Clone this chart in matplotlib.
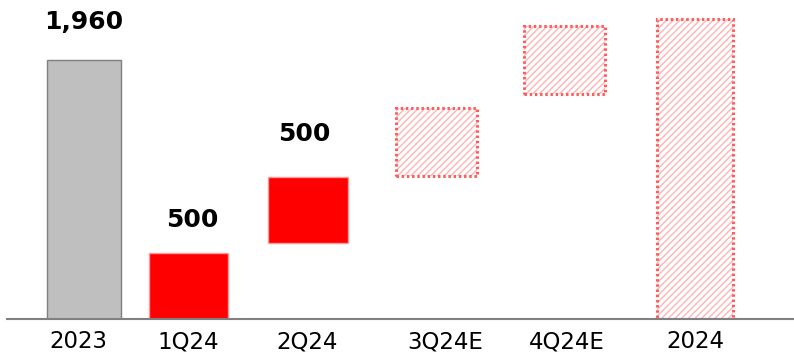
import matplotlib
matplotlib.use('Agg')
import matplotlib.pyplot as plt
from matplotlib.patches import Rectangle

plt.rcParams.update({'font.family': 'DejaVu Sans', 'hatch.linewidth': 1.0})

# waterfall data
periods = ['2023', '1Q24', '2Q24', '3Q24E', '4Q24E', '2024']
bottoms = [0, 0, 575, 1080, 1700, 0]
heights = [1960, 500, 500, 515, 515, 2270]
kinds = ['base', 'actual', 'actual', 'estimate', 'estimate', 'estimate']
labels = ['1,960', '500', '500', None, None, None]

# layout (x in pixel-like units)
centers = [84, 188.5, 308, 436.5, 564.5, 695]
widths = [74, 79, 80, 81, 81, 76]
tick_x = [78, 188, 307, 445, 567, 695]
label_gap = [26, 21, 31, 0, 0, 0]
label_dx = [0, 4, -4, 0, 0, 0]

fig = plt.figure(figsize=(7.94, 3.52), dpi=100)
ax = fig.add_axes([7 / 794, 33 / 352, 787 / 794, 319 / 352])
ax.set_xlim(7, 794)
ax.set_ylim(0, 319 / (259 / 1960))

for i, k in enumerate(kinds):
    x0 = centers[i] - widths[i] / 2
    if k == 'base':
        ax.bar(centers[i], heights[i], widths[i], bottom=bottoms[i],
               color='#BFBFBF', edgecolor='#7F7F7F', linewidth=1.0, zorder=2)
    elif k == 'actual':
        ax.bar(centers[i], heights[i], widths[i], bottom=bottoms[i],
               color='#FF0000', edgecolor='#FF9A9A', linewidth=1.0, zorder=2)
    else:
        ax.bar(centers[i], heights[i], widths[i], bottom=bottoms[i],
               color='white', edgecolor='#FFB4B4', hatch='/////', linewidth=0, zorder=2)
        ax.add_patch(Rectangle((x0, bottoms[i]), widths[i], heights[i], fill=False,
                               edgecolor='#FF5C5C', linewidth=2.2,
                               linestyle=(0, (0.8, 0.9)), zorder=3))
    if labels[i]:
        ax.annotate(labels[i], (centers[i] + label_dx[i], bottoms[i] + heights[i]),
                    xytext=(0, label_gap[i] * 0.72), textcoords='offset points',
                    ha='center', va='bottom', fontsize=18, fontweight='bold')

ax.set_xticks(tick_x)
ax.set_xticklabels(periods, fontsize=16.5)
ax.tick_params(axis='x', length=0, pad=8)
ax.set_yticks([])
for s in ['top', 'right', 'left']:
    ax.spines[s].set_visible(False)
ax.spines['bottom'].set_color('#808080')
ax.spines['bottom'].set_linewidth(1.5)
ax.spines['bottom'].set_zorder(4)

fig.savefig('out.png', dpi=100, facecolor='white')
